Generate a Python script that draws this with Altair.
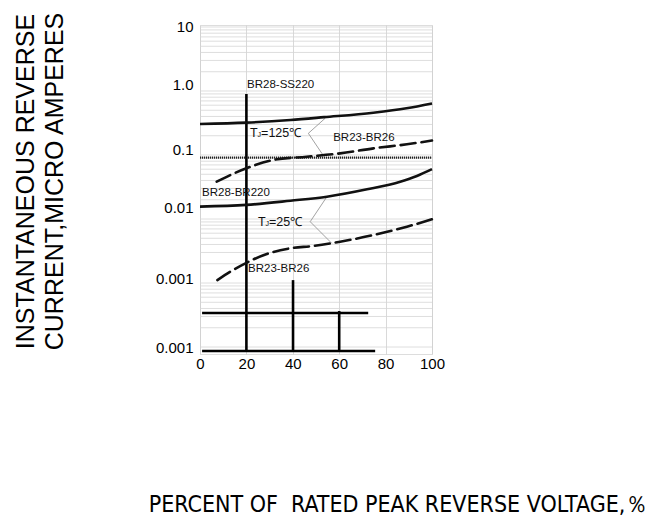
import altair as alt
import pandas as pd

# ---------------- data ----------------
# x: percent of rated peak reverse voltage, y: reverse current (micro amperes)
x_solid_125 = [0, 20, 39, 53.5, 74.7, 89, 100]
y_solid_125 = [0.305, 0.32, 0.352, 0.39, 0.458, 0.537, 0.64]

x_dash_125 = [7.2, 20, 31.6, 46, 60.4, 74.8, 89.2, 100]
y_dash_125 = [0.0383, 0.062, 0.0836, 0.094, 0.106, 0.127, 0.147, 0.168]

x_solid_25 = [0, 20, 39, 54.7, 72, 86.3, 93.5, 100]
y_solid_25 = [0.0156, 0.0166, 0.0193, 0.0223, 0.0291, 0.0383, 0.047, 0.060]

x_dash_25 = [7.5, 13, 20, 28.8, 38.8, 48.9, 60.4, 74.8, 89.2, 100]
y_dash_25 = [0.00111, 0.0015, 0.00207, 0.00284, 0.00348, 0.00379, 0.00442,
             0.00562, 0.00759, 0.00989]

dotted_level = [0.0908]

# thick black lines of the original figure (start/end values)
thick_x = [20, 40.1, 60, 0.9, 0.9]
thick_x2 = [20, 40.1, 60, 72.5, 75.5]
thick_y = [0.898, 0.00111, 0.000365, 0.00034, 0.0000866]
thick_y2 = [0.0000866, 0.0000866, 0.0000866, 0.00034, 0.0000866]

# leader lines from the temperature labels to the curves
lead_x = [46.7, 46.7, 47.5, 47.5]
lead_x2 = [53.9, 53.0, 54.7, 56.8]
lead_y = [0.218, 0.218, 0.00908, 0.00908]
lead_y2 = [0.374, 0.1, 0.0223, 0.00417]

# horizontal grid lines
grid_y = [10, 9, 8, 7, 6, 5, 4, 3, 2,
          1, 0.9, 0.8, 0.7, 0.6, 0.5, 0.4, 0.3, 0.2,
          0.1, 0.09, 0.08, 0.07, 0.06, 0.05, 0.04, 0.03, 0.02,
          0.01, 0.009, 0.008, 0.007, 0.006, 0.005, 0.004, 0.003, 0.002,
          0.001, 0.0009, 0.0008, 0.0007, 0.0006, 0.0005, 0.0004, 0.0003, 0.0002,
          0.0001]

x_ticks = [0, 20, 40, 60, 80, 100]
y_ticks = [10, 1, 0.1, 0.01, 0.001, 0.0001]
y_tick_labels = ["10", "1.0", "0.1", "0.01", "0.001", "0.001"]
y_label_shift = [0, -6, -5, -12, -5, 0]

part_labels = ["BR28-SS220", "BR23-BR26", "BR28-BR220", "BR23-BR26"]
part_x = [20.3, 57.4, 0.9, 20.7]
part_y = [1.24, 0.1845, 0.02548, 0.001655]

temp_labels = ["=125℃", "=25℃"]
temp_x = [21.6, 25.0]
temp_y = [0.221, 0.00898]

x_domain = [0, 100]
y_domain = [7.78e-5, 10.74]

# ---------------- build tables ----------------
def curve(xs, ys, name):
    return pd.DataFrame({"x": xs, "y": ys, "curve": name})

solid_df = pd.concat([curve(x_solid_125, y_solid_125, "s125"),
                      curve(x_solid_25, y_solid_25, "s25")])
dash_df = pd.concat([curve(x_dash_125, y_dash_125, "d125"),
                     curve(x_dash_25, y_dash_25, "d25")])
grid_df = pd.DataFrame({"x": [x_domain[0]] * len(grid_y),
                        "x2": [x_domain[1]] * len(grid_y), "y": grid_y})
dot_df = pd.DataFrame({"x": [x_domain[0]], "x2": [x_domain[1]], "y": dotted_level})
thick_df = pd.DataFrame({"x": thick_x, "x2": thick_x2, "y": thick_y, "y2": thick_y2})
lead_df = pd.DataFrame({"x": lead_x, "x2": lead_x2, "y": lead_y, "y2": lead_y2})
part_df = pd.DataFrame({"x": part_x, "y": part_y, "t": part_labels})
temp_df = pd.DataFrame({"x": temp_x, "y": temp_y, "t": temp_labels,
                        "T": ["T"] * 2, "J": ["J"] * 2})

# label expression and offsets built from the tick arrays
lab_expr = "".join(
    f"datum.value > {v * 0.5} ? '{l}' : " for v, l in zip(y_ticks[:-1], y_tick_labels[:-1])
) + f"'{y_tick_labels[-1]}'"
offset_cond = [
    {"test": f"datum.value > {v * 0.5} && datum.value < {v * 2}", "value": s}
    for v, s in zip(y_ticks, y_label_shift) if s != 0
]

FONT = "Liberation Sans"
NARROW = "DejaVu Sans Condensed, Liberation Sans Narrow, Liberation Sans"

x_axis = alt.Axis(
    values=x_ticks, grid=True, gridColor="#cfcfcf", gridWidth=0.8,
    domain=False, ticks=False, labelFontSize=15, labelFont=FONT,
    labelColor="black", labelPadding=2, labelFlush=False,
    title="PERCENT OF\u00a0 RATED PEAK REVERSE VOLTAGE,％",
    titleFont=NARROW, titleFontSize=23, titleFontWeight="normal",
    titleColor="black", titleX=198, titleY=150, titleBaseline="middle",
    titleAlign="center",
)
y_axis = alt.Axis(
    values=y_ticks, grid=False, domain=False, ticks=False,
    labelExpr=lab_expr, labelFontSize=15, labelFont=FONT, labelColor="black",
    labelPadding=7, labelFlush=False,
    labelOffset={"condition": offset_cond, "value": 0},
    title=["INSTANTANEOUS REVERSE", "CURRENT,MICRO AMPERES"],
    titleFont=FONT, titleFontSize=25, titleFontWeight="normal",
    titleColor="black", titleAngle=270, titleX=-175, titleY=156,
    titleBaseline="middle", titleAlign="center", titleLineHeight=29.5,
)

xs = alt.Scale(domain=x_domain, nice=False, zero=False)
ys = alt.Scale(type="log", domain=y_domain, nice=False)
X = alt.X("x:Q", scale=xs, axis=x_axis)
Y = alt.Y("y:Q", scale=ys, axis=y_axis)

grid = alt.Chart(grid_df).mark_rule(color="#d6d6d6", strokeWidth=0.8).encode(
    x=X, x2="x2:Q", y=Y)

dotted = alt.Chart(dot_df).mark_rule(color="#222", strokeWidth=2.2,
                                     strokeDash=[1.2, 0.8]).encode(
    x=X, x2="x2:Q", y=Y)

thick = alt.Chart(thick_df).mark_rule(color="black", strokeWidth=2.6).encode(
    x=X, x2="x2:Q", y=Y, y2="y2:Q")

lead = alt.Chart(lead_df).mark_rule(color="#8a8a8a", strokeWidth=0.8).encode(
    x=X, x2="x2:Q", y=Y, y2="y2:Q")

solid = alt.Chart(solid_df).mark_line(color="#111", strokeWidth=2.6,
                                      interpolate="monotone").encode(
    x=X, y=Y, detail="curve:N")

dashed = alt.Chart(dash_df).mark_line(color="#111", strokeWidth=2.6,
                                      strokeDash=[15, 6], strokeCap="round",
                                      interpolate="monotone").encode(
    x=X, y=Y, detail="curve:N")

parts = alt.Chart(part_df).mark_text(align="left", baseline="middle",
                                     fontSize=11.5, font=FONT, color="#111").encode(
    x=X, y=Y, text="t:N")

t_T = alt.Chart(temp_df).mark_text(align="left", baseline="middle",
                                   fontSize=12.5, font=FONT, color="#111").encode(
    x=X, y=Y, text="T:N")
t_J = alt.Chart(temp_df).mark_text(align="left", baseline="middle", dx=7.5, dy=2,
                                   fontSize=7, font=FONT, color="#111").encode(
    x=X, y=Y, text="J:N")
t_rest = alt.Chart(temp_df).mark_text(align="left", baseline="middle", dx=11,
                                      fontSize=12.5, font=FONT, color="#111").encode(
    x=X, y=Y, text="t:N")

chart = alt.layer(grid, dotted, thick, lead, solid, dashed, parts, t_T, t_J, t_rest).properties(
    width=232, height=329,
    autosize=alt.AutoSizeParams(type="none"),
    padding={"left": 192, "top": 17, "right": 225, "bottom": 170},
).configure_view(stroke=None).configure(background="white")

chart.save("out.html", embed_options={"renderer": "svg", "actions": False})
